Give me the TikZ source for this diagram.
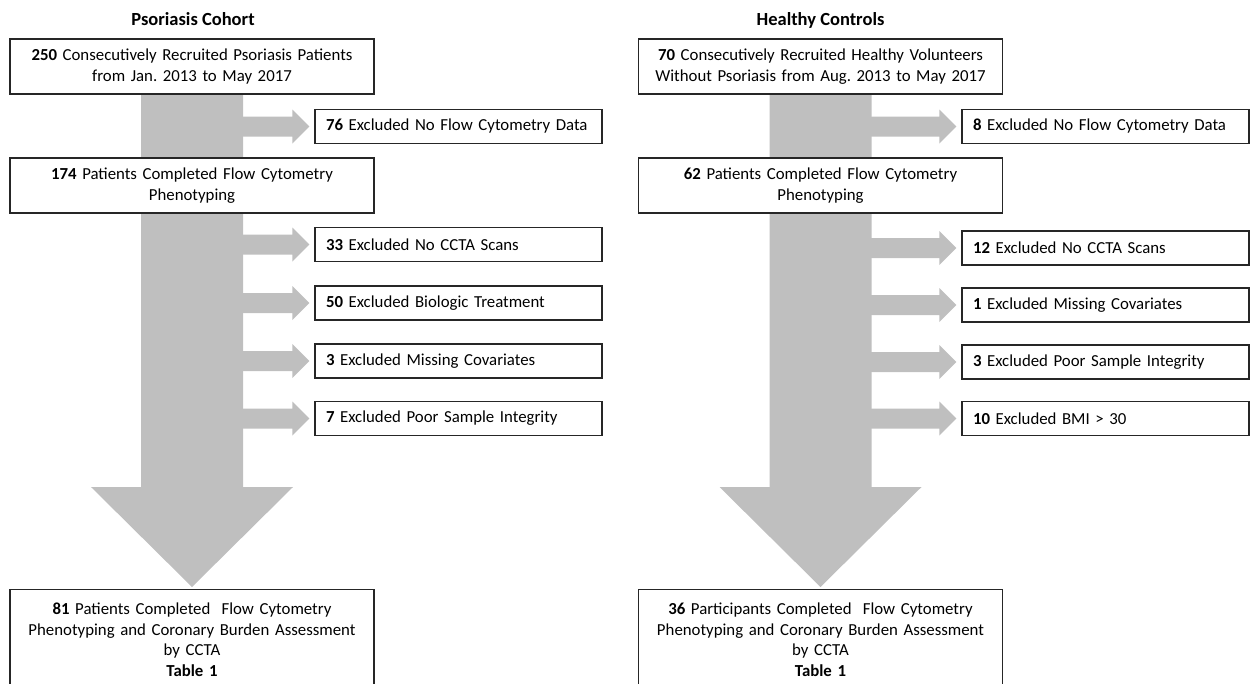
\documentclass[tikz,border=0pt]{standalone}
\usepackage{fontspec}
\setmainfont{Carlito}
\usetikzlibrary{backgrounds,calc}
\frenchspacing

\tikzset{
    bigbox/.style={draw=black!85, line width=1.1pt, fill=white,
        minimum width=364pt, minimum height=55pt, text width=356pt,
        align=center, inner sep=0pt, font=\fontsize{16.8}{20.5}\selectfont},
    exbox/.style={draw=black!85, line width=1.1pt, fill=white,
        minimum width=287pt, minimum height=34pt, text width=265pt,
        align=left, inner sep=0pt, font=\fontsize{16.8}{20.5}\selectfont},
    heading/.style={anchor=base, font=\fontsize{18.5}{20}\selectfont\bfseries},
    flow/.style={fill=black!25, draw=none},
}

% broad gray arrow from #1 down to #2
\newcommand{\trunk}[2]{%
    \fill[flow] ($(#1.south)+(-51,-1)$) -- ($(#1.south)+(51,-1)$)
        -- ($(#2.north)+(51,-102)$) -- ($(#2.north)+(101,-102)$)
        -- ($(#2.north)+(0,-2)$) -- ($(#2.north)+(-101,-102)$)
        -- ($(#2.north)+(-51,-102)$) -- cycle;}
% side arrow from trunk edge #1 to box #2
\newcommand{\branch}[2]{%
    \fill[flow] ($(#1 |- #2.west)+(-1,-10)$) -- ($(#2.west)+(-22,-10)$)
        -- ($(#2.west)+(-22,-17)$) -- ($(#2.west)+(-5,0)$)
        -- ($(#2.west)+(-22,17)$) -- ($(#2.west)+(-22,10)$)
        -- ($(#1 |- #2.west)+(-1,10)$) -- cycle;}

\begin{document}
\begin{tikzpicture}[x=1pt,y=-1pt]
    \useasboundingbox (0,0) rectangle (1250,683);
    \clip (0,0) rectangle (1250,683);

    % Psoriasis cohort
    \node[heading] (ltitle) at (193,25) {Psoriasis Cohort};
    \node[bigbox] (p250) at (192,66.5)
        {\textbf{250} Consecutively Recruited Psoriasis Patients\\from Jan. 2013 to May 2017};
    \node[exbox] (p76) at (458.5,126.5) {\textbf{76} Excluded No Flow Cytometry Data};
    \node[bigbox] (p174) at (192,185.5)
        {\textbf{174} Patients Completed Flow Cytometry\\Phenotyping};
    \node[exbox] (p33) at (458.5,244.5) {\textbf{33} Excluded No CCTA Scans};
    \node[exbox] (p50) at (458.5,303) {\textbf{50} Excluded Biologic Treatment};
    \node[exbox] (p3) at (458.5,361) {\textbf{3} Excluded Missing Covariates};
    \node[exbox] (p7) at (458.5,418.5) {\textbf{7} Excluded Poor Sample Integrity};
    \node[bigbox, anchor=north, minimum height=100pt] (p81) at (192,589)
        {\textbf{81} Patients Completed\ \ Flow Cytometry\\Phenotyping and Coronary Burden Assessment\\by CCTA\\\textbf{Table 1}};
    \coordinate (ledge) at ($(p250.south)+(51,0)$);

    % Healthy controls
    \node[heading] (rtitle) at (820.5,25) {Healthy Controls};
    \node[bigbox] (h70) at (820.5,66.5)
        {\textbf{70} Consecutively Recruited Healthy Volunteers\\Without Psoriasis from Aug. 2013 to May 2017};
    \node[exbox] (h8) at (1105.5,126.5) {\textbf{8} Excluded No Flow Cytometry Data};
    \node[bigbox] (h62) at (820.5,185.5)
        {\textbf{62} Patients Completed Flow Cytometry\\Phenotyping};
    \node[exbox] (h12) at (1105.5,248) {\textbf{12} Excluded No CCTA Scans};
    \node[exbox] (h1) at (1105.5,305) {\textbf{1} Excluded Missing Covariates};
    \node[exbox] (h3) at (1105.5,362) {\textbf{3} Excluded Poor Sample Integrity};
    \node[exbox] (h10) at (1105.5,418.5) {\textbf{10} Excluded BMI > 30};
    \node[bigbox, anchor=north, minimum height=100pt] (h36) at (820.5,589)
        {\textbf{36} Participants Completed\ \ Flow Cytometry\\Phenotyping and Coronary Burden Assessment\\by CCTA\\\textbf{Table 1}};
    \coordinate (redge) at ($(h70.south)+(51,0)$);

    \begin{scope}[on background layer]
        \trunk{p250}{p81}
        \foreach \b in {p76,p33,p50,p3,p7} {\branch{ledge}{\b}}
        \trunk{h70}{h36}
        \foreach \b in {h8,h12,h1,h3,h10} {\branch{redge}{\b}}
    \end{scope}
\end{tikzpicture}
\end{document}
